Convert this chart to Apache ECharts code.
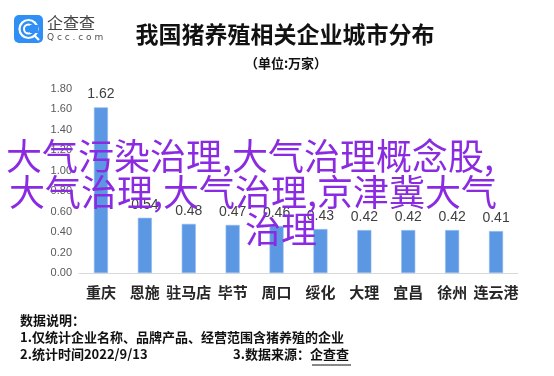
<!DOCTYPE html>
<html>
<head>
<meta charset="utf-8">
<script src="https://cdn.jsdelivr.net/npm/echarts@6/dist/echarts.min.js"></script>
<style>
  html, body { margin: 0; padding: 0; background: #fff; }
  #main { width: 554px; height: 376px; }
</style>
</head>
<body>
<div id="main"></div>
<script>
  // 城市分布数据（单位：万家）
  var cities = ['重庆', '恩施', '驻马店', '毕节', '周口', '绥化', '大理', '宜昌', '徐州', '连云港'];
  var counts = [1.62, 0.54, 0.48, 0.47, 0.46, 0.43, 0.42, 0.42, 0.42, 0.41];
  var overlayLines = ['大气污染治理,大气治理概念股,', '大气治理,大气治理,京津冀大气', '治理'];

  var cjk = '"Noto Sans CJK SC", "Noto Sans", sans-serif';
  var myChart = echarts.init(document.getElementById('main'));

  var option = {
    backgroundColor: '#fff',
    animation: false,
    grid: { left: 79, right: 36, top: 89, bottom: 103 },
    xAxis: {
      type: 'category',
      data: cities,
      axisLine: { lineStyle: { color: '#d9d9d9', width: 1 } },
      axisTick: { show: false },
      axisLabel: {
        color: '#262626',
        fontSize: 15,
        fontWeight: 'bold',
        fontFamily: cjk,
        margin: 12,
        interval: 0
      }
    },
    yAxis: {
      type: 'value',
      min: 0,
      max: 1.8,
      interval: 0.2,
      axisLine: { show: false },
      axisTick: { show: false },
      splitLine: { show: false },
      axisLabel: {
        color: '#595959',
        fontSize: 11,
        fontFamily: '"Liberation Sans", Arial, sans-serif',
        margin: 7,
        formatter: function (v) { return v.toFixed(2); }
      }
    },
    series: [{
      type: 'bar',
      data: counts,
      barWidth: 14,
      itemStyle: { color: '#5b97e3', borderColor: '#8db8ef', borderWidth: 0.6 },
      label: {
        show: true,
        position: 'top',
        distance: 6,
        color: '#404040',
        fontSize: 14,
        fontFamily: '"Liberation Sans", Arial, sans-serif',
        formatter: function (p) { return p.value.toFixed(2); }
      }
    }],
    graphic: [
      // logo
      { type: 'rect', shape: { x: 14, y: 15, width: 29, height: 28, r: 5 }, style: { fill: '#2f8ff4' } },
      { type: 'circle', shape: { cx: 28.5, cy: 29, r: 9 }, style: { fill: 'none', stroke: '#fff', lineWidth: 2.2 } },
      { type: 'circle', shape: { cx: 28.5, cy: 29, r: 4.5 }, style: { fill: 'none', stroke: '#fff', lineWidth: 2 } },
      { type: 'rect', shape: { x: 30, y: 25, width: 8, height: 8 }, style: { fill: '#2f8ff4' } },
      { type: 'line', shape: { x1: 34, y1: 35, x2: 39, y2: 40 }, style: { stroke: '#fff', lineWidth: 2.2 } },
      { type: 'text', left: 47, top: 15, style: { text: '企查查', fill: '#444', font: '16px ' + cjk } },
      { type: 'text', left: 47, top: 33, style: { text: 'Q c c . c o m', fill: '#555', font: '9px "DejaVu Sans", sans-serif' } },
      // 标题
      { type: 'text', x: 285, y: 34, style: { text: '我国猪养殖相关企业城市分布', fill: '#111', font: 'bold 23px ' + cjk, align: 'center', verticalAlign: 'middle' } },
      { type: 'text', x: 286, y: 63, style: { text: '（单位:万家）', fill: '#111', font: 'bold 13px ' + cjk, align: 'center', verticalAlign: 'middle' } },
      // 数据说明
      { type: 'text', left: 20, top: 314, style: { text: '数据说明：', fill: '#111', font: 'bold 13px ' + cjk } },
      { type: 'text', left: 20, top: 331, style: { text: '1.仅统计企业名称、品牌产品、经营范围含猪养殖的企业', fill: '#111', font: 'bold 13px ' + cjk } },
      { type: 'text', left: 20, top: 348, style: { text: '2.统计时间2022/9/13', fill: '#111', font: 'bold 13px ' + cjk } },
      { type: 'text', left: 233, top: 348, style: { text: '3.数据来源：企查查', fill: '#111', font: 'bold 13px ' + cjk } },
      { type: 'line', shape: { x1: 312, y1: 365, x2: 351, y2: 365 }, style: { stroke: '#111', lineWidth: 1 } },
      // 覆盖文字
      { type: 'text', x: 250, y: 156, z: 100, style: { text: overlayLines[0], fill: '#8a2be2', font: '36px ' + cjk, align: 'center', verticalAlign: 'middle' } },
      { type: 'text', x: 253, y: 192, z: 100, style: { text: overlayLines[1], fill: '#8a2be2', font: '36px ' + cjk, align: 'center', verticalAlign: 'middle' } },
      { type: 'text', x: 281, y: 229, z: 100, style: { text: overlayLines[2], fill: '#8a2be2', font: '36px ' + cjk, align: 'center', verticalAlign: 'middle' } }
    ]
  };

  myChart.setOption(option);
</script>
</body>
</html>
